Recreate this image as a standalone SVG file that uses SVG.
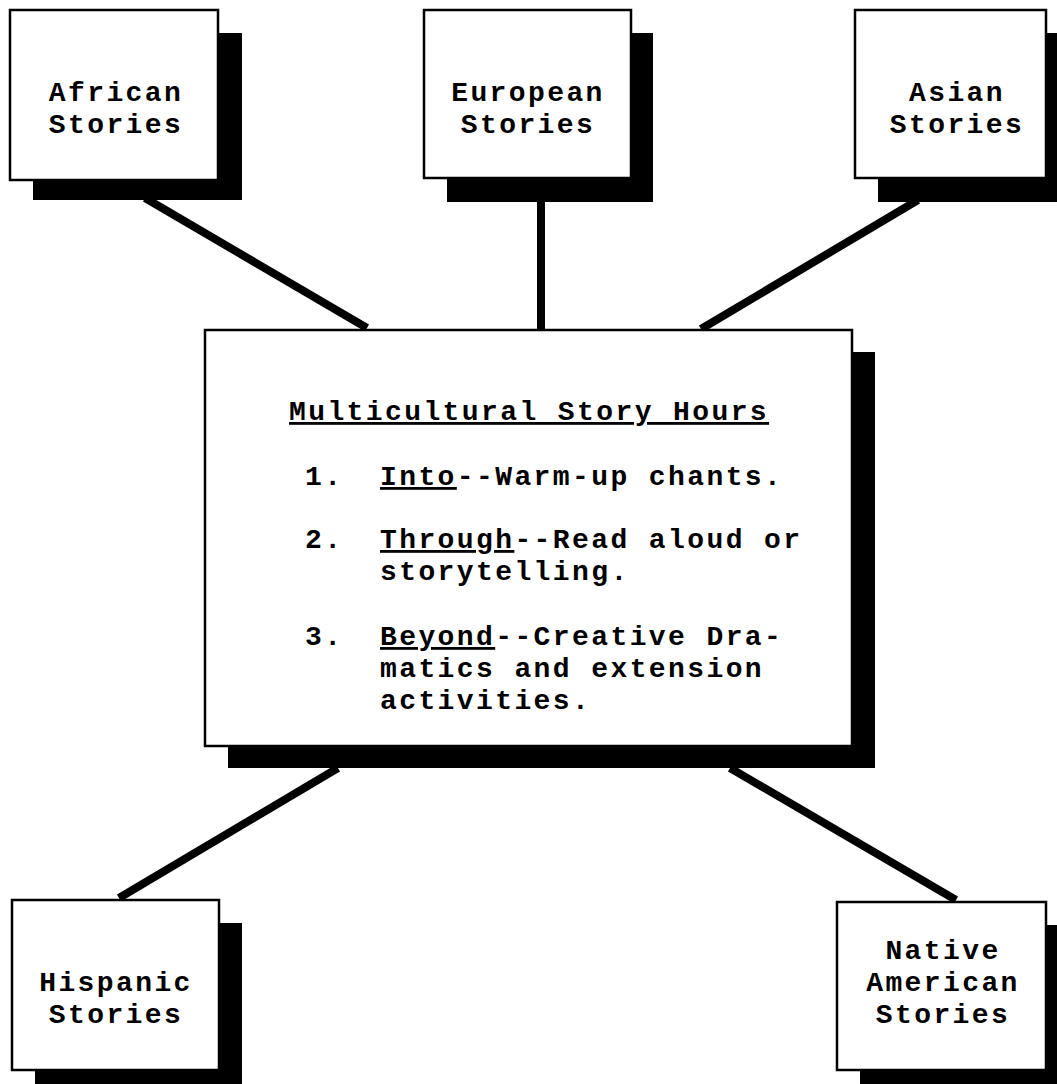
<svg xmlns="http://www.w3.org/2000/svg" width="1057" height="1084" viewBox="0 0 1057 1084">
<style>
.box{fill:#fff;stroke:#000;stroke-width:2.5}
.shadow{fill:#000}
.t{font-family:"Liberation Mono","DejaVu Sans Mono",monospace;font-size:28px;letter-spacing:2.4px;font-weight:bold;fill:#000}
.c{text-anchor:middle}
.u{text-decoration:underline}
.conn{stroke:#000;stroke-width:8;stroke-linecap:butt;fill:none}
</style>
<rect width="1057" height="1084" fill="#fff"/>
<g id="connectors">
<line class="conn" x1="145" y1="198" x2="367" y2="328"/>
<line class="conn" x1="541" y1="200" x2="541" y2="330"/>
<line class="conn" x1="918" y1="200" x2="701" y2="329"/>
<line class="conn" x1="338" y1="768" x2="119" y2="898"/>
<line class="conn" x1="730" y1="768" x2="956" y2="900"/>
</g>
<g id="african">
<rect class="shadow" x="33" y="33" width="209" height="167"/>
<rect class="box" x="10" y="10" width="208" height="170"/>
<text class="t c" x="116" y="101">African</text>
<text class="t c" x="116" y="133">Stories</text>
</g>
<g id="european">
<rect class="shadow" x="447" y="33" width="206" height="169"/>
<rect class="box" x="424" y="10" width="207" height="168"/>
<text class="t c" x="528" y="101">European</text>
<text class="t c" x="528" y="133">Stories</text>
</g>
<g id="asian">
<rect class="shadow" x="878" y="33" width="179" height="169"/>
<rect class="box" x="855" y="10" width="191" height="168"/>
<text class="t c" x="957" y="101">Asian</text>
<text class="t c" x="957" y="133">Stories</text>
</g>
<g id="center">
<rect class="shadow" x="228" y="352" width="647" height="416"/>
<rect class="box" x="205" y="330" width="647" height="416"/>
<text class="t u" x="289" y="420">Multicultural Story Hours</text>
<text class="t" x="305" y="485">1.</text>
<text class="t" x="380" y="485"><tspan class="u">Into</tspan>--Warm-up chants.</text>
<text class="t" x="305" y="548">2.</text>
<text class="t" x="380" y="548"><tspan class="u">Through</tspan>--Read aloud or</text>
<text class="t" x="380" y="580">storytelling.</text>
<text class="t" x="305" y="645">3.</text>
<text class="t" x="380" y="645"><tspan class="u">Beyond</tspan>--Creative Dra-</text>
<text class="t" x="380" y="677">matics and extension</text>
<text class="t" x="380" y="709">activities.</text>
</g>
<g id="hispanic">
<rect class="shadow" x="35" y="923" width="207" height="170"/>
<rect class="box" x="12" y="900" width="207" height="170"/>
<text class="t c" x="116" y="991">Hispanic</text>
<text class="t c" x="116" y="1023">Stories</text>
</g>
<g id="native">
<rect class="shadow" x="860" y="925" width="197" height="170"/>
<rect class="box" x="837" y="902" width="209" height="168"/>
<text class="t c" x="943" y="959">Native</text>
<text class="t c" x="943" y="991">American</text>
<text class="t c" x="943" y="1023">Stories</text>
</g>
</svg>
